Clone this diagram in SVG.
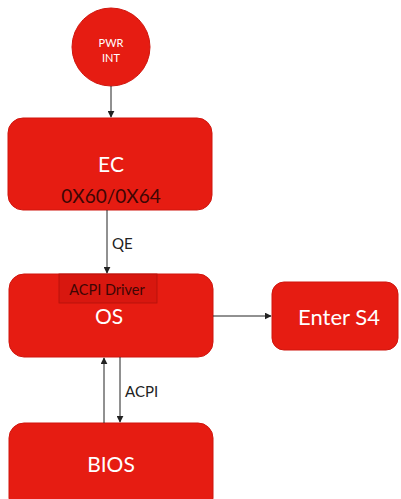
<svg xmlns="http://www.w3.org/2000/svg" width="401" height="499" viewBox="0 0 401 499">
  <style>
    .box { fill: #e61c12; stroke: #d0150d; stroke-width: 1; }
    .inner { fill: #d8170f; stroke: #b2130c; stroke-width: 0.8; }
    .lbl { font-family: Lato, "Open Sans", "Liberation Sans", sans-serif; text-anchor: middle; }
    .white { fill: #ffffff; }
    .dark { fill: #3e0604; }
    .edge { stroke: #222222; stroke-width: 1; fill: none; marker-end: url(#arr); }
    .elbl { font-family: Lato, "Open Sans", "Liberation Sans", sans-serif; fill: #222222; font-size: 15px; }
  </style>
  <defs>
    <marker id="arr" viewBox="0 0 10 10" refX="9" refY="5" markerWidth="7" markerHeight="7" markerUnits="userSpaceOnUse" orient="auto">
      <path d="M0,0 L10,5 L0,10 z" fill="#222222"/>
    </marker>
  </defs>
  <rect width="401" height="499" fill="#ffffff"/>

  <g id="pwr-int">
    <circle cx="111" cy="47" r="39" class="box"/>
    <text x="111" y="47" class="lbl white" font-size="11">PWR</text>
    <text x="111" y="62" class="lbl white" font-size="11">INT</text>
  </g>

  <g id="ec">
    <rect x="8" y="118" width="204" height="92" rx="15" class="box"/>
    <text x="111" y="172" class="lbl white" font-size="21">EC</text>
    <text x="111" y="203" class="lbl dark" font-size="19">0X60/0X64</text>
  </g>

  <g id="os">
    <rect x="9" y="274" width="204" height="83" rx="15" class="box"/>
    <rect x="59" y="274" width="98" height="29" class="inner"/>
    <text x="107" y="295" class="lbl dark" font-size="14.5">ACPI Driver</text>
    <text x="109" y="324" class="lbl white" font-size="21">OS</text>
  </g>

  <g id="enter-s4">
    <rect x="272" y="282" width="126" height="68" rx="12" class="box"/>
    <text x="339" y="325" class="lbl white" font-size="22">Enter S4</text>
  </g>

  <g id="bios">
    <rect x="9" y="423" width="204" height="90" rx="15" class="box"/>
    <text x="111" y="472" class="lbl white" font-size="21">BIOS</text>
  </g>

  <g id="connectors">
    <line x1="111" y1="86" x2="111" y2="117" class="edge"/>
    <line x1="107" y1="210" x2="107" y2="273" class="edge"/>
    <text x="112" y="249" class="elbl">QE</text>
    <line x1="213" y1="316" x2="271" y2="316" class="edge"/>
    <line x1="104" y1="423" x2="104" y2="358" class="edge"/>
    <line x1="120" y1="357" x2="120" y2="422" class="edge"/>
    <text x="125" y="397" class="elbl">ACPI</text>
  </g>
</svg>
